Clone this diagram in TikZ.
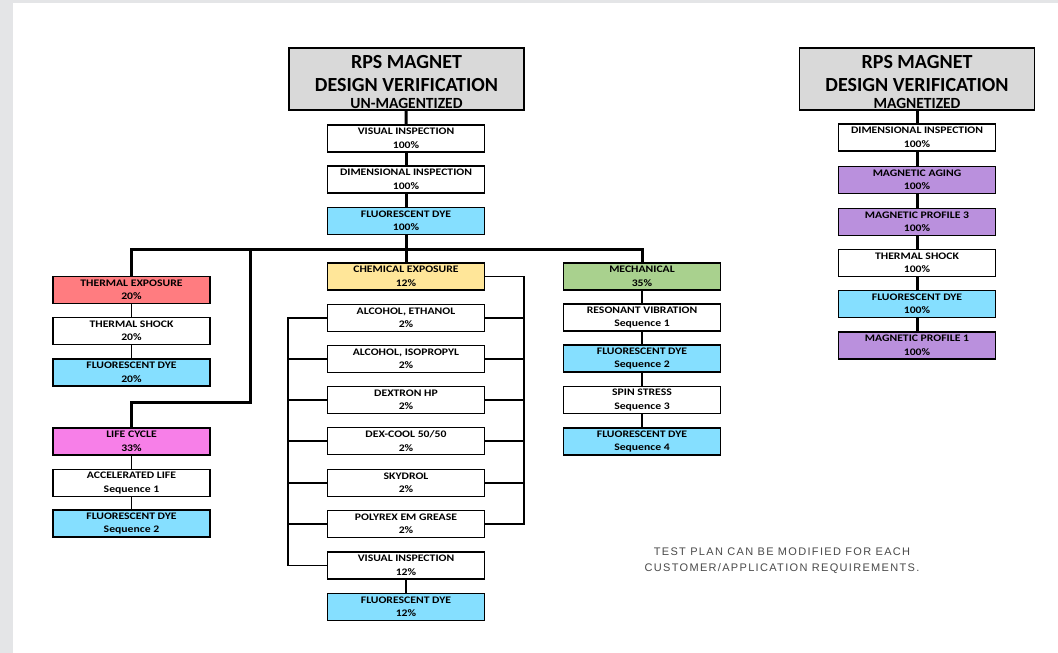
\documentclass[tikz,border=0pt]{standalone}
\usepackage{fontspec}
\setmainfont{Carlito}
\newfontfamily\boxfont[FakeStretch=1.17]{Carlito}
\newfontfamily\notefont[LetterSpace=12]{Liberation Sans}
\definecolor{fdblue}{HTML}{85DFFF}
\definecolor{texp}{HTML}{FF7C80}
\definecolor{life}{HTML}{F77FE8}
\definecolor{chem}{HTML}{FFE699}
\definecolor{mech}{HTML}{A9D18E}
\definecolor{magp}{HTML}{BA90DD}
\definecolor{titlegray}{HTML}{D9D9D9}
\definecolor{pagegray}{HTML}{E4E5E7}
\definecolor{notegray}{HTML}{4A4A4A}
\tikzset{
  box/.style={draw=black, line width=1.8pt, minimum width=157pt, minimum height=27pt,
    inner sep=0pt, align=center, font=\boxfont\fontsize{10}{13.5}\selectfont\bfseries, fill=white},
  titlebox/.style={draw=black, line width=1.8pt, minimum width=235pt, minimum height=62pt,
    inner sep=0pt, fill=titlegray},
  big/.style={anchor=base, inner sep=0pt, font=\fontsize{20}{24}\selectfont\bfseries},
  sub/.style={anchor=base, inner sep=0pt, font=\fontsize{15.5}{18}\selectfont\bfseries},
  link/.style={line width=1.8pt},
  thick link/.style={line width=3pt},
}
\begin{document}
\begin{tikzpicture}[x=1pt,y=-1pt]
\useasboundingbox (0,0) rectangle (1058,653);
\fill[pagegray] (0,0) rectangle (1058,653);
\fill[white] (13,3) rectangle (1058,653);

% titles
\node[titlebox] (t1) at (406.5,79) {};
\node[big] (t1a) at (406.5,68) {RPS MAGNET};
\node[big] (t1b) at (406.5,91.5) {DESIGN VERIFICATION};
\node[sub] (t1c) at (406.5,108.5) {UN-MAGENTIZED};
\node[titlebox] (t2) at (917,79) {};
\node[big] (t2a) at (917,68) {RPS MAGNET};
\node[big] (t2b) at (917,91.5) {DESIGN VERIFICATION};
\node[sub] (t2c) at (917,108.5) {MAGNETIZED};

% central top column
\node[box] (vis1) at (406,138.5) {VISUAL INSPECTION\\100\%};
\node[box] (dim1) at (406,179.5) {DIMENSIONAL INSPECTION\\100\%};
\node[box,fill=fdblue] (fd1) at (406,221) {FLUORESCENT DYE\\100\%};

% left column
\node[box,fill=texp] (te) at (131.5,290) {THERMAL EXPOSURE\\20\%};
\node[box] (ts) at (131.5,331) {THERMAL SHOCK\\20\%};
\node[box,fill=fdblue] (fdl) at (131.5,372.5) {FLUORESCENT DYE\\20\%};
\node[box,fill=life] (lc) at (131.5,441.5) {LIFE CYCLE\\33\%};
\node[box] (al) at (131.5,483) {ACCELERATED LIFE\\Sequence 1};
\node[box,fill=fdblue] (fdl2) at (131.5,523.5) {FLUORESCENT DYE\\Sequence 2};

% chemical column
\node[box,fill=chem] (ce) at (406,276.5) {CHEMICAL EXPOSURE\\12\%};
\node[box] (eth) at (406,318) {ALCOHOL, ETHANOL\\2\%};
\node[box] (iso) at (406,359) {ALCOHOL, ISOPROPYL\\2\%};
\node[box] (dex) at (406,400) {DEXTRON HP\\2\%};
\node[box] (dc) at (406,441) {DEX-COOL 50/50\\2\%};
\node[box] (sky) at (406,483) {SKYDROL\\2\%};
\node[box] (poly) at (406,524) {POLYREX EM GREASE\\2\%};
\node[box] (vis12) at (406,565.5) {VISUAL INSPECTION\\12\%};
\node[box,fill=fdblue] (fd12) at (406,607) {FLUORESCENT DYE\\12\%};

% mechanical column
\node[box,fill=mech] (mc) at (642,276.5) {MECHANICAL\\35\%};
\node[box] (res) at (642,317.5) {RESONANT VIBRATION\\Sequence 1};
\node[box,fill=fdblue] (fdm2) at (642,358.5) {FLUORESCENT DYE\\Sequence 2};
\node[box] (spin) at (642,400) {SPIN STRESS\\Sequence 3};
\node[box,fill=fdblue] (fdm4) at (642,441.5) {FLUORESCENT DYE\\Sequence 4};

% magnetized column
\node[box] (dim2) at (917,137.5) {DIMENSIONAL INSPECTION\\100\%};
\node[box,fill=magp] (ma) at (917,180) {MAGNETIC AGING\\100\%};
\node[box,fill=magp] (mp3) at (917,222) {MAGNETIC PROFILE 3\\100\%};
\node[box] (ts2) at (917,263) {THERMAL SHOCK\\100\%};
\node[box,fill=fdblue] (fd2) at (917,304) {FLUORESCENT DYE\\100\%};
\node[box,fill=magp] (mp1) at (917,345.5) {MAGNETIC PROFILE 1\\100\%};

% note
\node[font=\notefont\fontsize{11}{16}\selectfont, text=notegray, align=center] (note) at (782,561)
  {TEST PLAN CAN BE MODIFIED FOR EACH\\CUSTOMER/APPLICATION REQUIREMENTS.};

% coordinates
\coordinate (busy) at (0,249);
\coordinate (lcturn) at (250,402);
\coordinate (rb) at (524,0);
\coordinate (lb) at (288,0);

% connectors: top chain
\draw[thick link] (t1) -- (vis1);
\draw[thick link] (vis1) -- (dim1);
\draw[thick link] (dim1) -- (fd1);
\draw[thick link] (fd1.south) -- (ce.north);
\draw[thick link] (te.north) |- (mc.north |- busy) -- (mc.north);
\draw[thick link] (lc.north) |- (lcturn) -- (lcturn |- busy);

% left chains
\draw[link] (te) -- (ts);
\draw[link] (ts) -- (fdl);
\draw[link] (lc) -- (al);
\draw[link] (al) -- (fdl2);

% chemical buses
\draw[link] (ce.east) -| (rb |- poly.east) -- (poly.east);
\foreach \n in {eth,iso,dex,dc,sky} \draw[link] (\n.east) -- (rb |- \n.east);
\draw[link] (eth.west) -| (lb |- vis12.west) -- (vis12.west);
\foreach \n in {iso,dex,dc,sky,poly} \draw[link] (\n.west) -- (lb |- \n.west);
\draw[link] (vis12) -- (fd12);

% mechanical chain
\draw[link] (mc) -- (res);
\draw[link] (res) -- (fdm2);
\draw[link] (fdm2) -- (spin);
\draw[link] (spin) -- (fdm4);

% magnetized chain
\draw[thick link] (t2) -- (dim2);
\draw[thick link] (dim2) -- (ma);
\draw[thick link] (ma) -- (mp3);
\draw[thick link] (mp3) -- (ts2);
\draw[thick link] (ts2) -- (fd2);
\draw[thick link] (fd2) -- (mp1);
\end{tikzpicture}
\end{document}
